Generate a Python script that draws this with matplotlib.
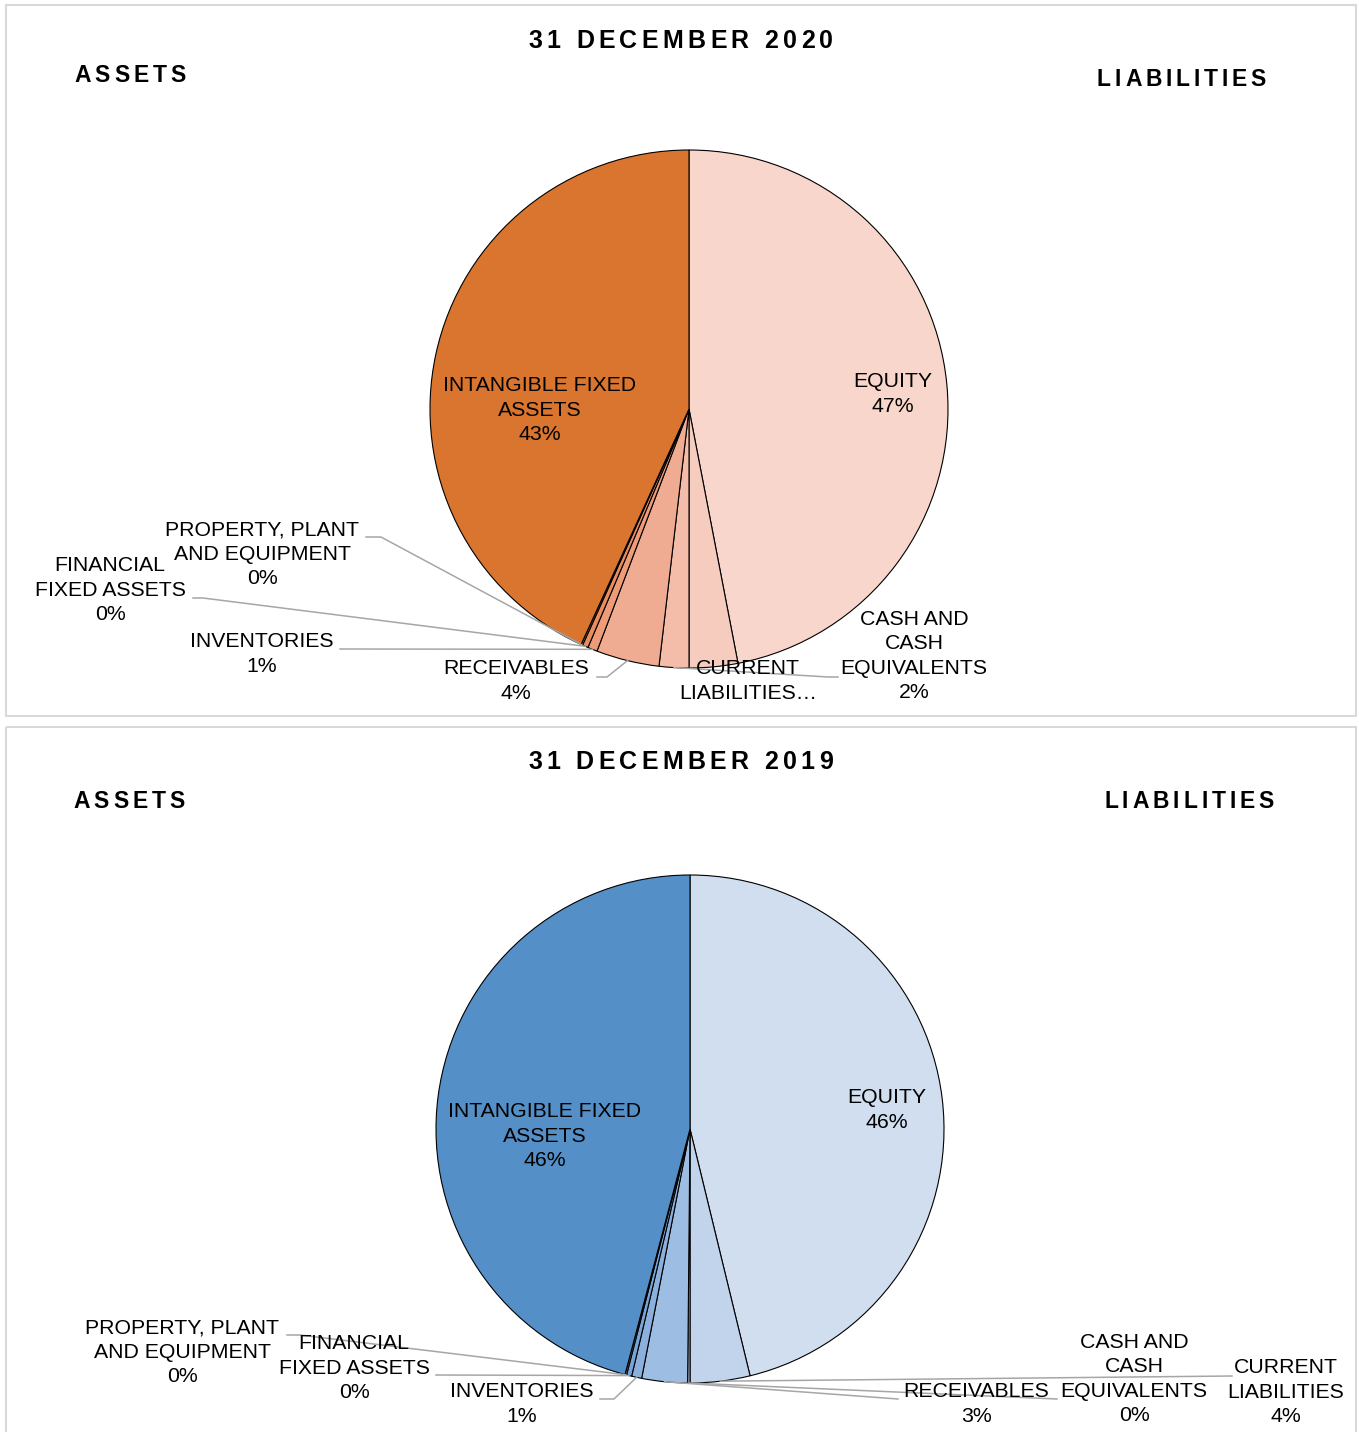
import matplotlib
matplotlib.use("Agg")
import numpy as np
import matplotlib.pyplot as plt
from matplotlib.font_manager import FontProperties
from matplotlib.patches import Rectangle

W, H = 1359, 1432

# slices clockwise from 12 o'clock, share of balance sheet total in %
categories = ["EQUITY", "CURRENT LIABILITIES", "CASH AND CASH EQUIVALENTS", "RECEIVABLES",
              "INVENTORIES", "FINANCIAL FIXED ASSETS", "PROPERTY, PLANT AND EQUIPMENT",
              "INTANGIBLE FIXED ASSETS"]
share_2020 = [46.97, 3.03, 1.85, 3.93, 0.60, 0.36, 0.10, 43.16]
share_2019 = [46.20, 3.80, 0.15, 2.90, 0.64, 0.33, 0.10, 45.88]

# label text as wrapped in each chart
names_2020 = ["EQUITY", "CURRENT\nLIABILITIES…", "CASH AND\nCASH\nEQUIVALENTS", "RECEIVABLES",
              "INVENTORIES", "FINANCIAL\nFIXED ASSETS", "PROPERTY, PLANT\nAND EQUIPMENT",
              "INTANGIBLE FIXED\nASSETS"]
names_2019 = ["EQUITY", "CURRENT\nLIABILITIES", "CASH AND\nCASH\nEQUIVALENTS", "RECEIVABLES",
              "INVENTORIES", "FINANCIAL\nFIXED ASSETS", "PROPERTY, PLANT\nAND EQUIPMENT",
              "INTANGIBLE FIXED\nASSETS"]

colors_2020 = ["#F8D6CB", "#F6CCBE", "#F3BDA9", "#F0AC92", "#EE9C77", "#EA8C5E", "#E27F45", "#D9752F"]
colors_2019 = ["#D0DEEF", "#C1D4EB", "#B1C9E6", "#9DBDE3", "#8BB0DD", "#79A4D6", "#6899CF", "#558FC7"]

FONT = "Liberation Sans"
LEADER = "#A6A6A6"

layout_2020 = dict(
    box=(6, 5, 1356, 716),
    center=(689, 409, 259),
    title=("31 DECEMBER 2020", 528, 833, 41),
    assets=(74, 186, 75),
    liabilities=(1097, 1266, 80),
    labels=[(893, 394), (748, 681), (914, 656), (516, 681),
            (262, 654), (110, 590), (262, 554), (540, 410)],
    leaders=[None, None, [(838, 677), (828, 677)], [(597, 677), (607, 677)],
             [(340, 649)], [(193, 598), (203, 598)], [(366, 537), (381, 537)], None],
)
layout_2019 = dict(
    box=(6, 727, 1356, 1440),
    center=(690, 1129, 254),
    title=("31 DECEMBER 2019", 528, 833, 762),
    assets=(73, 185, 802),
    liabilities=(1104, 1274, 802),
    labels=[(887, 1110), (1286, 1392), (1134, 1379), (976, 1404),
            (522, 1404), (354, 1368), (182, 1352), (545, 1136)],
    leaders=[None, [(1232, 1376)], [(1057, 1399)], [(898, 1399)],
             [(600, 1399), (614, 1399)], [(436, 1375)], [(287, 1335), (300, 1335)], None],
)

fig = plt.figure(figsize=(W / 100, H / 100), dpi=100)
renderer = fig.canvas.get_renderer()


def char_width(ch, prop):
    w1 = renderer.get_text_width_height_descent("|" + ch + "|", prop, ismath=False)[0]
    w0 = renderer.get_text_width_height_descent("||", prop, ismath=False)[0]
    return w1 - w0


def spaced_text(ax, s, x0, x1, y, size):
    # letter-spaced bold heading stretched to span x0..x1 pixels
    prop = FontProperties(family=FONT, weight="bold", size=size)
    widths = [char_width(ch, prop) for ch in s]
    gap = (x1 - x0 - sum(widths)) / (len(s) - 1)
    x = x0
    for ch, w in zip(s, widths):
        ax.text(x, y, ch, fontproperties=prop, ha="left", va="center")
        x += w + gap


def draw_panel(ov, share, names, colors, lay):
    cx, cy, R = lay["center"]
    pad = 1.02
    ax = fig.add_axes([(cx - R * pad) / W, 1 - (cy + R * pad) / H, 2 * R * pad / W, 2 * R * pad / H])
    ax.pie(share, colors=colors, startangle=90, counterclock=False, radius=1,
           wedgeprops=dict(edgecolor="black", linewidth=0.8))
    ax.set_xlim(-pad, pad)
    ax.set_ylim(-pad, pad)
    ax.set_aspect("equal")
    ax.axis("off")

    x0, y0, x1, y1 = lay["box"]
    ov.add_patch(Rectangle((x0, y0), x1 - x0, y1 - y0, fill=False, edgecolor="#D9D9D9", linewidth=1.5))

    t, tx0, tx1, ty = lay["title"]
    spaced_text(ov, t, tx0, tx1, ty, 18)
    spaced_text(ov, "ASSETS", *lay["assets"], 16.5)
    spaced_text(ov, "LIABILITIES", *lay["liabilities"], 16.5)

    frac = np.array(share) / np.sum(share)
    mid = np.cumsum(frac) - frac / 2
    px = cx + R * np.sin(2 * np.pi * mid)
    py = cy - R * np.cos(2 * np.pi * mid)

    for i, name in enumerate(names):
        txt = name if name.endswith("…") else f"{name}\n{share[i]:.0f}%"
        lx, ly = lay["labels"][i]
        ov.text(lx, ly, txt, ha="center", va="center", family=FONT, fontsize=15.3,
                linespacing=1.36, color="black", zorder=5)
        pts = lay["leaders"][i]
        if pts:
            xs = [p[0] for p in pts] + [px[i]]
            ys = [p[1] for p in pts] + [py[i]]
            ov.plot(xs, ys, color=LEADER, linewidth=1.1, zorder=4)


ov = fig.add_axes([0, 0, 1, 1], zorder=10)
ov.set_xlim(0, W)
ov.set_ylim(H, 0)
ov.axis("off")
ov.patch.set_alpha(0)

draw_panel(ov, share_2020, names_2020, colors_2020, layout_2020)
draw_panel(ov, share_2019, names_2019, colors_2019, layout_2019)

fig.savefig("out.png", dpi=100)
